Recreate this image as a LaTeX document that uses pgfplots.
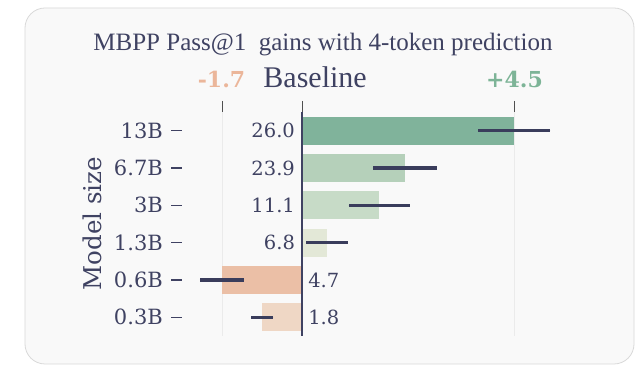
\documentclass[border=0pt]{standalone}
\usepackage{pgfplots}
\pgfplotsset{compat=1.18}
\usepackage{fontspec}
\setmainfont{Liberation Serif}
\newfontfamily\dvs{DejaVu Serif}
\definecolor{navy}{HTML}{3F4262}
\definecolor{errc}{HTML}{3A3D5C}
\definecolor{gA}{HTML}{80B39B}
\definecolor{gB}{HTML}{B5D0BA}
\definecolor{gC}{HTML}{C7DBC7}
\definecolor{gD}{HTML}{E3E8D7}
\definecolor{oA}{HTML}{EBBFA6}
\definecolor{oB}{HTML}{EFD7C5}
\definecolor{negc}{HTML}{EBB69A}
\definecolor{posc}{HTML}{7DB497}
\definecolor{cardbg}{HTML}{F9F9F9}
\definecolor{cardln}{HTML}{D9D9D9}
\definecolor{gridc}{HTML}{EBEBEB}
\definecolor{tickc}{HTML}{505050}

\begin{document}
\begin{tikzpicture}
\useasboundingbox (0,0) rectangle (638pt,374pt);
\fill[white] (0,0) rectangle (638pt,374pt);
\draw[cardln, fill=cardbg, line width=0.8pt, rounded corners=20pt] (25pt,10pt) rectangle (634pt,366pt);
\begin{axis}[
  at={(182pt,38pt)}, anchor=south west, scale only axis,
  width=416.85pt, height=224pt,
  xmin=-2.55, xmax=6.3, ymin=-0.5, ymax=5.5,
  axis line style={draw=none},
  xtick={-1.7,4.5}, xticklabels={}, xtick pos=right,
  extra x ticks={0}, extra x tick labels={},
  extra x tick style={major tick style={navy, line width=1.8pt}},
  xmajorgrids, grid style={gridc, line width=0.8pt},
  ytick={0,1,2,3,4,5}, yticklabels={0.3B,0.6B,1.3B,3B,6.7B,13B}, ytick pos=left,
  tick align=outside, major tick length=11pt,
  x tick style={tickc, line width=1pt},
  y tick style={navy, line width=1.2pt},
  yticklabel style={font=\dvs\fontsize{21}{24}\selectfont, text=navy, inner sep=0pt, xshift=-8pt},
  xbar, bar width=28pt,
  clip=false,
]
\addplot[xbar, bar shift=0pt, fill=gA, draw=none, error bars/.cd, x dir=both, x explicit, error mark=none, error bar style={errc, line width=3.2pt}] coordinates {(4.5,5) +- (0.77,0)};
\addplot[xbar, bar shift=0pt, fill=gB, draw=none, error bars/.cd, x dir=both, x explicit, error mark=none, error bar style={errc, line width=3.2pt}] coordinates {(2.18,4) +- (0.68,0)};
\addplot[xbar, bar shift=0pt, fill=gC, draw=none, error bars/.cd, x dir=both, x explicit, error mark=none, error bar style={errc, line width=3.2pt}] coordinates {(1.64,3) +- (0.65,0)};
\addplot[xbar, bar shift=0pt, fill=gD, draw=none, error bars/.cd, x dir=both, x explicit, error mark=none, error bar style={errc, line width=3.2pt}] coordinates {(0.53,2) +- (0.44,0)};
\addplot[xbar, bar shift=0pt, fill=oA, draw=none, error bars/.cd, x dir=both, x explicit, error mark=none, error bar style={errc, line width=3.2pt}] coordinates {(-1.7,1) +- (0.47,0)};
\addplot[xbar, bar shift=0pt, fill=oB, draw=none, error bars/.cd, x dir=both, x explicit, error mark=none, error bar style={errc, line width=3.2pt}] coordinates {(-0.85,0) +- (0.24,0)};
\draw[navy, line width=1.8pt] (axis cs:0,-0.5) -- (axis cs:0,5.5);
\begin{scope}[every node/.style={font=\dvs\fontsize{19.5}{22}\selectfont, text=navy, inner sep=0pt}]
\node[anchor=east, xshift=-7pt] at (axis cs:0,5) {26.0};
\node[anchor=east, xshift=-7pt] at (axis cs:0,4) {23.9};
\node[anchor=east, xshift=-7pt] at (axis cs:0,3) {11.1};
\node[anchor=east, xshift=-7pt] at (axis cs:0,2) {6.8};
\node[anchor=west, xshift=6pt] at (axis cs:0,1) {4.7};
\node[anchor=west, xshift=6pt] at (axis cs:0,0) {1.8};
\end{scope}
\node[anchor=base, inner sep=0pt, font=\dvs\bfseries\fontsize{22}{26}\selectfont, text=negc] at (axis cs:-1.71,6.143) {-1.7};
\node[anchor=base, inner sep=0pt, font=\dvs\bfseries\fontsize{22}{26}\selectfont, text=posc] at (axis cs:4.51,6.143) {+4.5};
\node[anchor=base, inner sep=0pt, font=\fontsize{30}{34}\selectfont, text=navy] at (axis cs:0.276,6.143) {Baseline};
\end{axis}
\node[anchor=base, inner sep=0pt, font=\fontsize{25}{30}\selectfont, text=navy] at (323pt,323pt) {MBPP Pass@1~~gains with 4-token prediction};
\node[rotate=90, inner sep=0pt, font=\dvs\fontsize{24.5}{28}\selectfont, text=navy] at (92pt,150.5pt) {Model size};
\end{tikzpicture}
\end{document}
